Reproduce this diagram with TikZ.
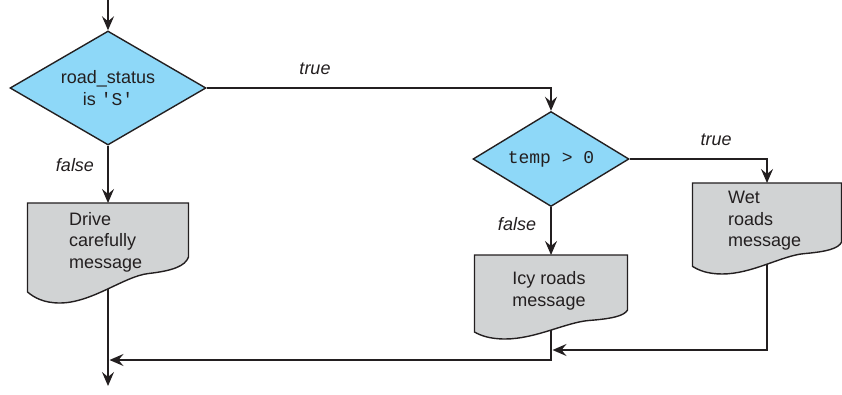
\documentclass[tikz,border=0pt]{standalone}
\usepackage{fontspec}
\setmainfont{Liberation Sans}
\setmonofont{Liberation Mono}
\usetikzlibrary{shapes.geometric,arrows.meta}
\pgfdeclarelayer{bg}
\pgfsetlayers{bg,main}
\definecolor{dblue}{HTML}{8ED8F8}
\definecolor{dgray}{HTML}{D1D3D4}
\definecolor{dline}{HTML}{231F20}
\newcommand\docshape[6]{%
  \begin{scope}[shift={(#2,#3)},xscale=#4,yscale=#5]
    \draw[docbox] (0,0) -- (1,0) -- (1,#6)
      .. controls (0.98,{#6+0.2*(1-#6)}) and (0.9,{#6+0.3*(1-#6)}) .. (0.75,{#6+0.36*(1-#6)})
      .. controls (0.6,{#6+0.42*(1-#6)}) and (0.4,1) .. (0.2,1)
      .. controls (0.1,1) and (0.04,{1-0.12*(1-#6)}) .. (0,{1-0.24*(1-#6)}) -- cycle;
    \coordinate (#1top) at (0.5,0);
    \coordinate (#1bot) at (0.5,0.7);
  \end{scope}}
\tikzset{
  txt/.style={font=\fontsize{18}{21.5}\selectfont, text=dline, inner sep=0pt},
  decision/.style={shape=diamond, draw=dline, fill=dblue, line width=1.4pt,
    inner sep=0pt, align=center, txt},
  docbox/.style={draw=dline, fill=dgray, line width=1.4pt, line join=miter},
  flow/.style={draw=dline, line width=1.6pt, -{Stealth[length=14pt,width=12pt,inset=5pt]}},
  lbl/.style={txt, font=\fontsize{18}{21.5}\selectfont\itshape}
}
\begin{document}
\begin{tikzpicture}[x=1pt,y=-1pt]
\useasboundingbox (0,0) rectangle (842,395);
% decisions
\node[decision, minimum width=196pt, minimum height=114pt, shape aspect=1.72] (dia1) at (108,88)
  {road\_status\\is \texttt{\char39 S\char39}};
\node[decision, minimum width=156pt, minimum height=95pt, shape aspect=1.64] (dia2) at (551,159)
  {\texttt{temp > 0}};
% documents
\docshape{doc1}{27.5}{203}{161}{100}{0.54}
\docshape{doc2}{474.5}{255}{153}{84}{0.655}
\docshape{doc3}{692.5}{183}{149}{91}{0.65}
\node[txt, anchor=west, align=left] (t1) at (69,242) {Drive\\carefully\\message};
\node[txt, align=center] (t2) at (549,291) {Icy roads\\message};
\node[txt, anchor=west, align=left] (t3) at (728,221) {Wet\\roads\\message};
% labels
\node[lbl] (l1) at (315,69) {true};
\node[lbl] (l2) at (75,165) {false};
\node[lbl] (l3) at (716,140) {true};
\node[lbl] (l4) at (517,224) {false};
% connectors
\coordinate (in) at (108,0);
\coordinate (out) at (108,386);
\coordinate (j1) at (109.5,360);
\coordinate (j2) at (552.5,350);
\draw[flow] (in) -- (dia1.north);
\draw[flow] (dia1.east) -| (dia2.north);
\draw[flow] (dia1.south) -- (doc1top);
\draw[flow] (dia2.south) -- (doc2top);
\draw[flow] (dia2.east) -| (doc3top);
\begin{pgfonlayer}{bg}
\draw[flow] (doc1bot) -- (out);
\draw[flow] (doc2bot) |- (j1);
\draw[flow] (doc3bot) |- (j2);
\end{pgfonlayer}
\end{tikzpicture}
\end{document}
